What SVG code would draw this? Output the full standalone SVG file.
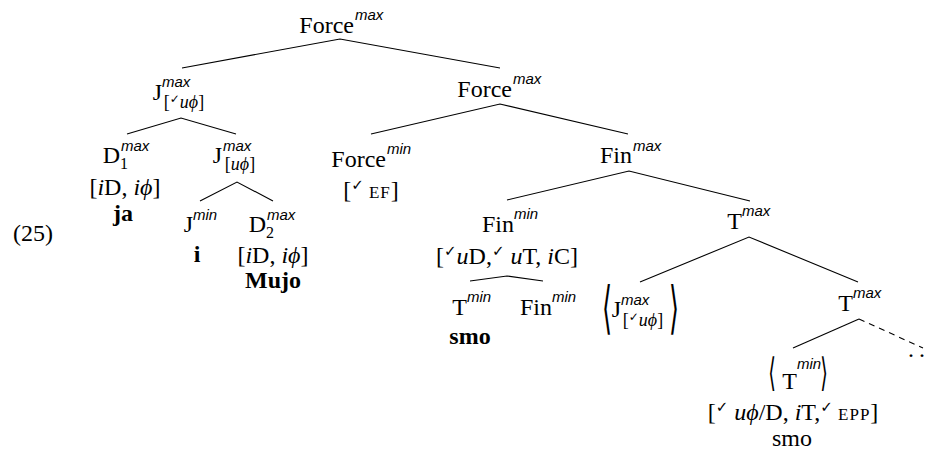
<svg xmlns="http://www.w3.org/2000/svg" width="930" height="455" viewBox="0 0 930 455">
<style>
text { font-family: "Liberation Serif", "DejaVu Serif", serif; fill: #000; }
.m { font-size: 24px; }
.e { text-anchor: end; }
.c { text-anchor: middle; }
.sup { font-family: "Liberation Sans", "DejaVu Sans", sans-serif; font-style: italic; font-size: 15px; }
.sub { font-size: 18px; }
.num { font-size: 16px; }
.it { font-style: italic; }
.b { font-weight: bold; }
.sc { font-size: 17px; letter-spacing: 1px; }
.ck { font-family: "DejaVu Sans", sans-serif; font-size: 15px; }
.cks { font-family: "DejaVu Sans", sans-serif; font-size: 12px; }
.ang { font-family: "DejaVu Sans", sans-serif; text-anchor: middle; }
.edge { stroke: #000; stroke-width: 1.1; fill: none; }
.dash { stroke-dasharray: 6 5; }
</style>
<rect width="930" height="455" fill="#fff"/>

<g id="connectors">
<path class="edge" d="M182,68 L340,39 L500,68"/>
<path class="edge" d="M127,134 L181,118 L236,134"/>
<path class="edge" d="M371,134 L500,104 L628,134"/>
<path class="edge" d="M200,201 L237,182 L273,201"/>
<path class="edge" d="M507,200 L629,171 L750,201"/>
<path class="edge" d="M470,281 L507,276 L543,281"/>
<path class="edge" d="M640,282 L749,237 L858,282"/>
<path class="edge" d="M793,348 L859,319"/>
<path class="edge dash" d="M859,319 L923,348"/>
</g>

<g id="ex-number">
<text class="m" x="13" y="241">(25)</text>
</g>

<g id="n-root">
<text class="m e" x="354" y="33">Force</text>
<text class="sup" x="355" y="20">max</text>
</g>

<g id="n-jmax1">
<text class="m e" x="162" y="100">J</text>
<text class="sup" x="162" y="87">max</text>
<text class="sub c" x="184" y="108">[<tspan class="cks" dy="-5">✓</tspan><tspan class="it" dy="5">uϕ</tspan>]</text>
</g>

<g id="n-force2">
<text class="m e" x="512" y="97">Force</text>
<text class="sup" x="513" y="84">max</text>
</g>

<g id="n-d1">
<text class="m e" x="120" y="163">D</text>
<text class="num" x="120" y="169">1</text>
<text class="sup" x="121" y="151">max</text>
<text class="m c" x="125" y="195">[<tspan class="it">i</tspan>D, <tspan class="it">iϕ</tspan>]</text>
<text class="m c b" x="123" y="221">ja</text>
</g>

<g id="n-jmax2">
<text class="m e" x="222" y="163">J</text>
<text class="sup" x="223" y="151">max</text>
<text class="sub c" x="240" y="170">[<tspan class="it">uϕ</tspan>]</text>
</g>

<g id="n-forcemin">
<text class="m e" x="386" y="167">Force</text>
<text class="sup" x="387" y="154">min</text>
<text class="m c" x="371" y="198">[<tspan class="ck" dy="-8">✓</tspan><tspan class="sc" dy="8"> EF</tspan>]</text>
</g>

<g id="n-finmax">
<text class="m e" x="632" y="163">Fin</text>
<text class="sup" x="633" y="151">max</text>
</g>

<g id="n-jmin">
<text class="m e" x="193" y="232">J</text>
<text class="sup" x="193" y="220">min</text>
<text class="m c b" x="197" y="262">i</text>
</g>

<g id="n-d2">
<text class="m e" x="266" y="232">D</text>
<text class="num" x="266" y="238">2</text>
<text class="sup" x="267" y="220">max</text>
<text class="m c" x="273" y="263">[<tspan class="it">i</tspan>D, <tspan class="it">iϕ</tspan>]</text>
<text class="m c b" x="273" y="288">Mujo</text>
</g>

<g id="n-finmin">
<text class="m e" x="514" y="232">Fin</text>
<text class="sup" x="514" y="219">min</text>
<text class="m c" x="507" y="264">[<tspan class="ck" dy="-8">✓</tspan><tspan class="it" dy="8">u</tspan>D,<tspan class="ck" dy="-8">✓</tspan><tspan class="it" dy="8"> u</tspan>T, <tspan class="it">i</tspan>C]</text>
</g>

<g id="n-tmin">
<text class="m e" x="467" y="315">T</text>
<text class="sup" x="467" y="302">min</text>
<text class="m c b" x="470" y="344">smo</text>
</g>

<g id="n-finmin2">
<text class="m e" x="552" y="315">Fin</text>
<text class="sup" x="552" y="302">min</text>
</g>

<g id="n-tmax1">
<text class="m e" x="742" y="229">T</text>
<text class="sup" x="742" y="216">max</text>
</g>

<g id="n-jcopy">
<text class="ang" font-size="57" transform="translate(607,327) scale(0.45,1)">⟨</text>
<text class="m e" x="621" y="317">J</text>
<text class="sup" x="621" y="305">max</text>
<text class="sub c" x="643" y="326">[<tspan class="cks" dy="-5">✓</tspan><tspan class="it" dy="5">uϕ</tspan>]</text>
<text class="ang" font-size="57" transform="translate(674,327) scale(0.45,1)">⟩</text>
</g>

<g id="n-tmax2">
<text class="m e" x="853" y="311">T</text>
<text class="sup" x="853" y="298">max</text>
<text class="m"><tspan x="908" y="357">.</tspan><tspan x="919" y="357">.</tspan></text>
</g>

<g id="n-tmin2">
<text class="ang" font-size="39" transform="translate(772,385.5) scale(0.5,1)">⟨</text>
<text class="m e" x="797" y="389">T</text>
<text class="sup" x="797" y="369">min</text>
<text class="ang" font-size="39" transform="translate(824,385.5) scale(0.5,1)">⟩</text>
<text class="m c" x="793" y="420">[<tspan class="ck" dy="-8">✓</tspan><tspan class="it" dy="8"> uϕ</tspan>/D, <tspan class="it">i</tspan>T,<tspan class="ck" dy="-8">✓</tspan><tspan class="sc" dy="8"> EPP</tspan>]</text>
<text class="m c" x="792" y="446">smo</text>
</g>
</svg>
